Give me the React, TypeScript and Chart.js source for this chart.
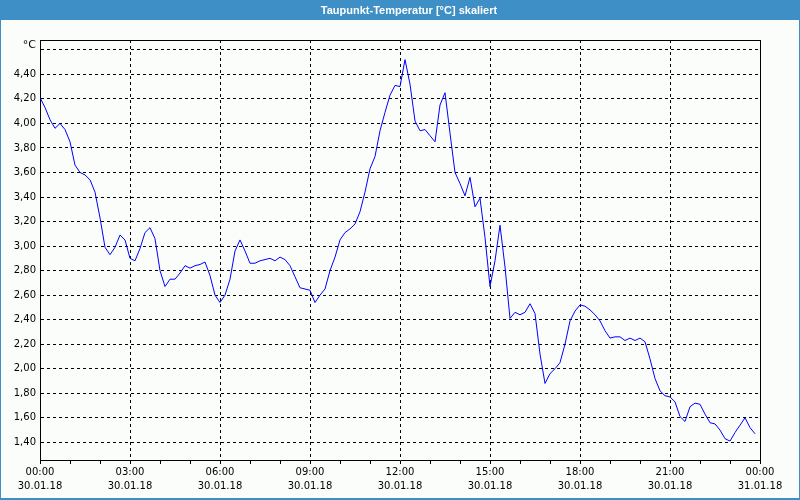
import React, { useEffect, useRef } from "react";
import { Chart, registerables } from "chart.js";

Chart.register(...registerables);

const TITLE = "Taupunkt-Temperatur [°C] skaliert";
const UNIT = "°C";
const START_DATE = "30.01.18";
const END_DATE = "31.01.18";
const STEP_MINUTES = 10;

// Dew point, one reading every 10 minutes from 00:00
const dewPoint: number[] = [
  4.21, 4.13, 4.03, 3.96, 4.0, 3.95, 3.85, 3.66, 3.6, 3.58,
  3.54, 3.44, 3.23, 2.99, 2.93, 2.99, 3.09, 3.05, 2.9, 2.88,
  2.98, 3.11, 3.15, 3.06, 2.8, 2.67, 2.73, 2.73, 2.78, 2.84,
  2.82, 2.84, 2.85, 2.87, 2.76, 2.6, 2.54, 2.6, 2.73, 2.96,
  3.05, 2.96, 2.86, 2.86, 2.88, 2.89, 2.9, 2.88, 2.91, 2.89,
  2.84, 2.75, 2.66, 2.65, 2.64, 2.54, 2.6, 2.65, 2.8, 2.91,
  3.05, 3.11, 3.14, 3.18, 3.28, 3.44, 3.63, 3.73, 3.94, 4.09,
  4.23, 4.31, 4.3, 4.52, 4.32, 4.02, 3.94, 3.95, 3.9, 3.85,
  4.15, 4.25, 3.92, 3.6, 3.51, 3.41, 3.56, 3.32, 3.39, 3.07,
  2.67, 2.88, 3.17, 2.83, 2.41, 2.46, 2.44, 2.46, 2.53, 2.45,
  2.12, 1.88, 1.96, 2.0, 2.05, 2.2, 2.39, 2.47, 2.52, 2.51,
  2.48, 2.44, 2.39, 2.31, 2.25, 2.26, 2.26, 2.23, 2.25, 2.23,
  2.25, 2.22, 2.08, 1.92, 1.82, 1.78, 1.77, 1.73, 1.61, 1.57,
  1.69, 1.72, 1.71, 1.63, 1.56, 1.55, 1.5, 1.43, 1.41, 1.48,
  1.54, 1.6, 1.52, 1.47,
];

const yTicks: number[] = [1.4, 1.6, 1.8, 2.0, 2.2, 2.4, 2.6, 2.8, 3.0, 3.2, 3.4, 3.6, 3.8, 4.0, 4.2, 4.4, 4.6];
const xLabelHours: number[] = [0, 3, 6, 9, 12, 15, 18, 21, 24];

const pad2 = (n: number) => (n < 10 ? "0" + n : "" + n);

const framePlugin = {
  id: "frame",
  beforeDraw(chart: any) {
    const { ctx, width, height } = chart;
    ctx.save();
    ctx.fillStyle = "#fbfdfb";
    ctx.fillRect(0, 0, width, height);
    ctx.fillStyle = "#3d8fc6";
    ctx.fillRect(0, 0, width, 20);
    ctx.strokeStyle = "#3d8fc6";
    ctx.lineWidth = 1;
    ctx.strokeRect(0.5, 0.5, width - 1, height - 1);
    ctx.fillRect(0, height - 2, width, 2);
    ctx.restore();
  },
  afterDraw(chart: any) {
    const { ctx, chartArea } = chart;
    const { left, right, top, bottom } = chartArea;
    ctx.save();
    ctx.strokeStyle = "#000";
    ctx.lineWidth = 1;
    ctx.beginPath();
    ctx.moveTo(Math.round(left), Math.round(top) + 0.5);
    ctx.lineTo(Math.round(right) + 1, Math.round(top) + 0.5);
    ctx.moveTo(Math.round(right) + 0.5, Math.round(top));
    ctx.lineTo(Math.round(right) + 0.5, Math.round(bottom) + 1);
    ctx.stroke();
    ctx.fillStyle = "#000";
    ctx.font = "11px 'DejaVu Sans'";
    ctx.textAlign = "right";
    ctx.textBaseline = "middle";
    ctx.fillText(UNIT, left - 4, top + 5);
    // title text in the blue bar
    ctx.fillStyle = "#ffffff";
    ctx.font = "bold 11px 'Liberation Sans'";
    ctx.textAlign = "center";
    ctx.textBaseline = "middle";
    ctx.fillText(TITLE, 409, 10.5);
    ctx.restore();
  },
};

export default function App() {
  const ref = useRef<HTMLCanvasElement | null>(null);

  useEffect(() => {
    if (!ref.current) return;
    const points = dewPoint.map((v, i) => ({ x: i * STEP_MINUTES, y: v }));
    const chart = new Chart(ref.current, {
      type: "line",
      data: {
        datasets: [
          {
            data: points,
            borderColor: "#0000ff",
            borderWidth: 1,
            pointRadius: 0,
            tension: 0,
            fill: false,
          },
        ],
      },
      options: {
        animation: false,
        responsive: false,
        layout: { padding: { left: 0, right: 40, top: 40, bottom: 0 } },
        plugins: {
          legend: { display: false },
          tooltip: { enabled: false },
          title: { display: false },
        },
        scales: {
          x: {
            type: "linear",
            min: 0,
            max: 1440,
            afterFit: (s: any) => {
              s.height = 40;
            },
            afterBuildTicks: (s: any) => {
              const t: any[] = [];
              for (let h = 0; h <= 24; h++) t.push({ value: h * 60 });
              s.ticks = t;
            },
            ticks: {
              autoSkip: false,
              maxRotation: 0,
              color: "#000",
              padding: 1,
              font: { family: "'DejaVu Sans'", size: 10, lineHeight: 1.4 },
              callback: (value: any) => {
                const h = Math.round(Number(value) / 60);
                if (!xLabelHours.includes(h)) return "";
                return [pad2(h % 24) + ":00", h === 24 ? END_DATE : START_DATE];
              },
            },
            grid: {
              color: (c: any) => (c.tick && c.tick.value % 180 === 0 ? "#000" : "rgba(0,0,0,0)"),
              tickColor: "#000",
              tickLength: 4,
              tickBorderDash: [],
              lineWidth: 1,
            },
            border: { display: true, color: "#000", width: 1, dash: [3, 3] },
          },
          y: {
            type: "linear",
            min: 1.256,
            max: 4.68,
            afterFit: (s: any) => {
              s.width = 40;
            },
            afterBuildTicks: (s: any) => {
              s.ticks = yTicks.map((v) => ({ value: v }));
            },
            ticks: {
              color: "#000",
              padding: 4,
              font: { family: "'DejaVu Sans'", size: 10 },
              callback: (value: any) => {
                const v = Number(value);
                if (Math.abs(v - 4.6) < 1e-6) return "";
                return v.toFixed(2).replace(".", ",");
              },
            },
            grid: {
              color: "#000",
              drawTicks: false,
              lineWidth: 1,
            },
            border: { display: true, color: "#000", width: 1, dash: [3, 3] },
          },
        },
      },
      plugins: [framePlugin],
    } as any);
    return () => chart.destroy();
  }, []);

  return (
    <div style={{ position: "absolute", left: 0, top: 0, width: 800, height: 500 }}>
      <canvas ref={ref} width={800} height={500} />
    </div>
  );
}
